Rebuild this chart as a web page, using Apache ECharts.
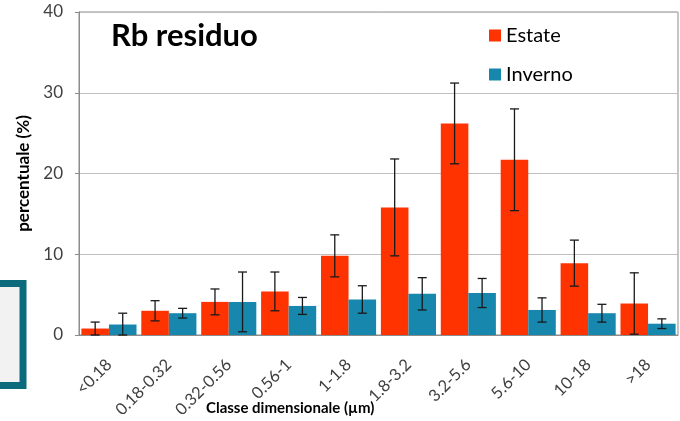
<!DOCTYPE html>
<html>
<head>
<meta charset="utf-8">
<script src="https://cdn.jsdelivr.net/npm/echarts@6/dist/echarts.min.js"></script>
<style>html,body{margin:0;padding:0;background:#fff}#c{width:680px;height:421px}</style>
</head>
<body>
<div id="c"></div>
<script>
var categories = ['<0.18','0.18-0.32','0.32-0.56','0.56-1','1-1.8','1.8-3.2','3.2-5.6','5.6-10','10-18','>18'];
var estate = [0.8, 3.0, 4.1, 5.4, 9.8, 15.8, 26.2, 21.7, 8.9, 3.9];
var estateErr = [0.8, 1.25, 1.6, 2.4, 2.6, 6.0, 5.0, 6.3, 2.85, 3.8];
var inverno = [1.3, 2.7, 4.1, 3.6, 4.4, 5.1, 5.2, 3.1, 2.7, 1.4];
var invernoErr = [1.4, 0.6, 3.7, 1.05, 1.7, 2.0, 1.8, 1.5, 1.1, 0.6];
var yTicks = [0, 10, 20, 30, 40];

var FONT = 'Lato';
var CAT_GAP = 0.08;

function errData(vals, errs) {
  return vals.map(function (v, i) { return [i, Math.max(0, v - errs[i]), v + errs[i]]; });
}
function errRender(sign) {
  return function (params, api) {
    var x = api.value(0);
    var lo = api.coord([x, api.value(1)]);
    var hi = api.coord([x, api.value(2)]);
    var band = api.size([1, 0])[0];
    var barW = band * (1 - CAT_GAP) / 2;
    var cx = lo[0] + sign * barW / 2;
    var cap = 4.5;
    var st = { stroke: '#1a1a1a', lineWidth: 1.3 };
    return {
      type: 'group',
      children: [
        { type: 'line', shape: { x1: cx, y1: hi[1], x2: cx, y2: lo[1] }, style: st },
        { type: 'line', shape: { x1: cx - cap, y1: hi[1], x2: cx + cap, y2: hi[1] }, style: st },
        { type: 'line', shape: { x1: cx - cap, y1: lo[1], x2: cx + cap, y2: lo[1] }, style: st }
      ]
    };
  };
}

var chart = echarts.init(document.getElementById('c'), null, { renderer: 'canvas' });
chart.setOption({
  animation: false,
  textStyle: { fontFamily: FONT },
  title: {
    text: 'Rb residuo', left: 106, top: 15,
    textStyle: { fontFamily: FONT, fontSize: 31, fontWeight: 'bold', color: '#000' }
  },
  legend: {
    orient: 'vertical', left: 484, top: 20,
    itemWidth: 12, itemHeight: 12, itemGap: 18, icon: 'rect',
    data: ['Estate', 'Inverno'],
    textStyle: { fontFamily: FONT, fontSize: 20, color: '#000', lineHeight: 21 }
  },
  grid: { left: 79, right: 2, top: 12, bottom: 86, show: true, borderColor: '#8c8c8c', borderWidth: 1 },
  xAxis: {
    type: 'category', data: categories,
    axisLine: { lineStyle: { color: '#8c8c8c', width: 1 } },
    axisTick: { show: false },
    axisLabel: { rotate: 45, fontSize: 16.5, color: '#404040', margin: 27, fontFamily: FONT, interval: 0 }
  },
  yAxis: {
    type: 'value', min: yTicks[0], max: yTicks[yTicks.length - 1], interval: 10,
    name: 'percentuale (%)', nameLocation: 'middle', nameGap: 41, nameRotate: 90,
    nameTextStyle: { fontFamily: FONT, fontSize: 17, fontWeight: 'bold', color: '#000' },
    axisLine: { show: true, lineStyle: { color: '#8c8c8c', width: 1 } },
    axisTick: { show: true, length: 4, lineStyle: { color: '#8c8c8c' } },
    axisLabel: { fontSize: 17, color: '#404040', margin: 16, fontFamily: FONT },
    splitLine: { lineStyle: { color: '#bfbfbf', width: 1 } }
  },
  graphic: [
    { type: 'rect', shape: { x: -10, y: 283.5, width: 33, height: 102 },
      style: { fill: '#f2f2f2', stroke: '#0b6a7b', lineWidth: 7 } },
    { type: 'text', left: 206, top: 401,
      style: { text: 'Classe dimensionale (µm)', font: 'bold 15px Lato', fill: '#000' } }
  ],
  series: [
    { name: 'Estate', type: 'bar', data: estate, barGap: '0%', barCategoryGap: (CAT_GAP * 100) + '%',
      itemStyle: { color: '#ff3300' } },
    { name: 'Inverno', type: 'bar', data: inverno, barGap: '0%', barCategoryGap: (CAT_GAP * 100) + '%',
      itemStyle: { color: '#1787ad' } },
    { type: 'custom', data: errData(estate, estateErr), renderItem: errRender(-1),
      encode: { x: 0, y: [1, 2] }, z: 5, silent: true },
    { type: 'custom', data: errData(inverno, invernoErr), renderItem: errRender(1),
      encode: { x: 0, y: [1, 2] }, z: 5, silent: true }
  ]
});
</script>
</body>
</html>
